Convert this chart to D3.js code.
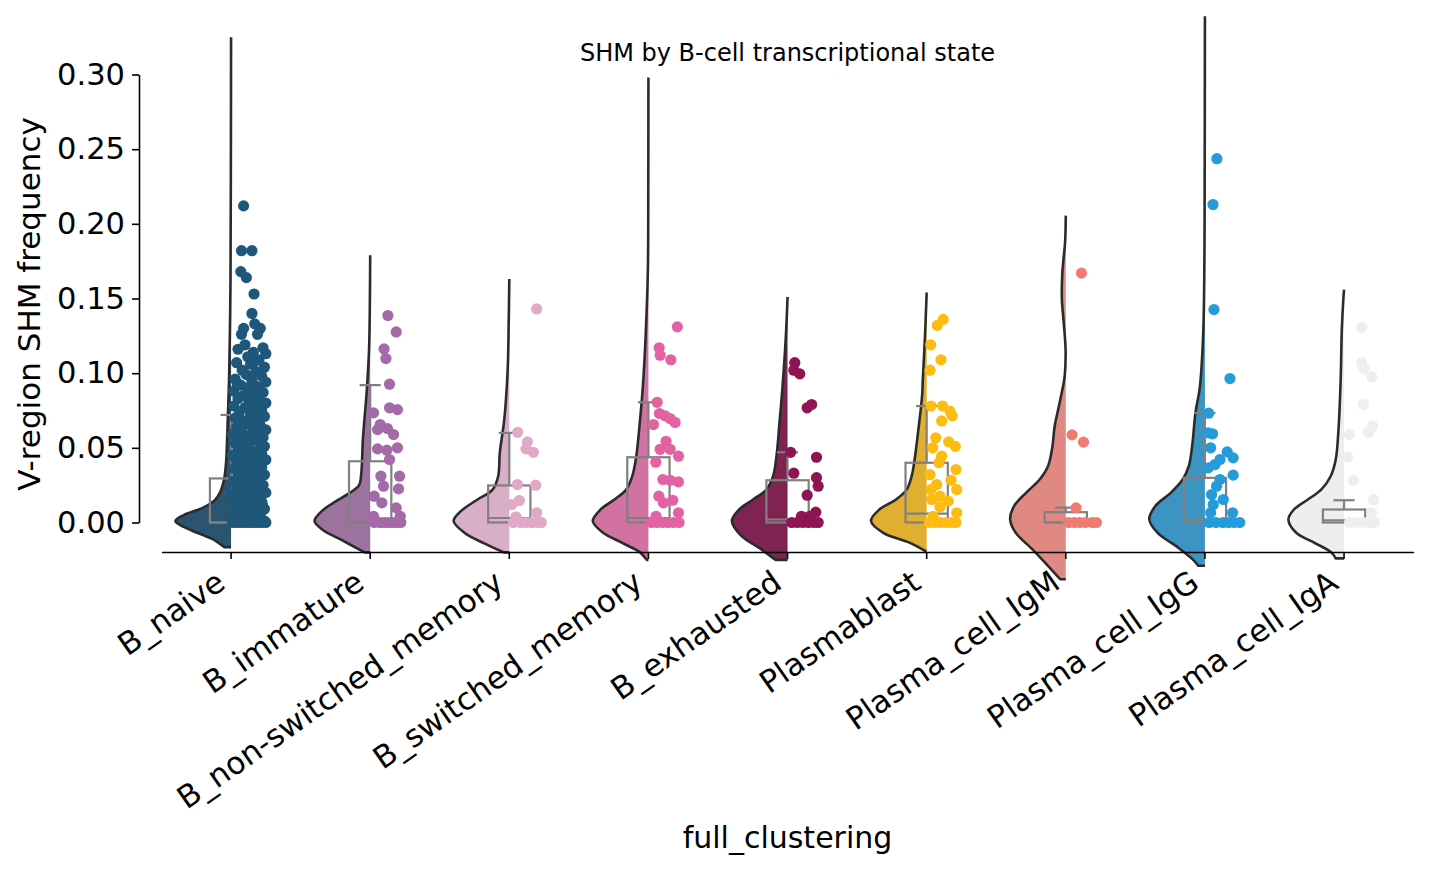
<!DOCTYPE html>
<html>
<head>
<meta charset="utf-8">
<script src="https://cdn.jsdelivr.net/npm/d3@7"></script>
<style>
  body { margin: 0; background: #fff; }
  text { font-family: "DejaVu Sans", sans-serif; fill: #000; }
</style>
</head>
<body>
<svg id="chart" width="1430" height="872"></svg>
<script>
// categories and their point colours
const categories = ["B_naive", "B_immature", "B_non-switched_memory", "B_switched_memory",
  "B_exhausted", "Plasmablast", "Plasma_cell_IgM", "Plasma_cell_IgG", "Plasma_cell_IgA"];
const pointColors = ["#1f577b", "#a36aa7", "#e0a8c9", "#e262a4", "#8e1454",
  "#fcbc12", "#f07b72", "#259bd9", "#efedf0"];

const yTicks = [0, 0.05, 0.10, 0.15, 0.20, 0.25, 0.30];

// box stats: [q1, median, q3, upper whisker]
const boxStats = [
  [0, 0, 0.0295, 0.072],
  [0, 0, 0.041, 0.092],
  [0, 0.003, 0.0248, 0.060],
  [0, 0.003, 0.0437, 0.0805],
  [0, 0.002, 0.0283, 0.047],
  [0, 0.006, 0.040, 0.078],
  [0, 0, 0.0069, 0.0100],
  [0, 0.002, 0.0299, 0.0734],
  [0, 0.0015, 0.0087, 0.0149]
];

// half-violin outlines: [value, relative width]
const naiveDensity = [[-0.0165,0.12],[-0.011,0.34],[-0.007,0.6],[-0.003,0.85],[0.001,1.0],[0.005,0.85],[0.01,0.5],[0.015,0.29],[0.02,0.2],[0.029,0.125],[0.04,0.09],[0.074,0.055],[0.096,0.036],[0.13,0.02],[0.163,0.01],[0.23,0.004],[0.325,0]];
const immatureDensity = [[-0.020,0.1],[-0.011,0.55],[-0.005,0.85],[0.001,1.0],[0.0076,0.87],[0.013,0.67],[0.02,0.36],[0.025,0.2],[0.033,0.16],[0.056,0.13],[0.089,0.06],[0.116,0.02],[0.15,0.005],[0.179,0]];
const nonSwitchedDensity = [[-0.020,0.1],[-0.0135,0.48],[-0.007,0.8],[0.001,1.0],[0.0076,0.87],[0.0154,0.57],[0.022,0.3],[0.031,0.2],[0.047,0.17],[0.069,0.09],[0.102,0.03],[0.136,0.01],[0.163,0]];
const switchedDensity = [[-0.025,0.03],[-0.02,0.15],[-0.0135,0.48],[-0.0067,0.82],[0.001,1.0],[0.0087,0.86],[0.0154,0.61],[0.022,0.4],[0.031,0.29],[0.044,0.22],[0.069,0.15],[0.091,0.1],[0.125,0.05],[0.169,0.01],[0.22,0.003],[0.298,0]];
const exhaustedDensity = [[-0.025,0.22],[-0.018,0.47],[-0.009,0.83],[0.001,1.0],[0.0087,0.87],[0.0154,0.62],[0.022,0.38],[0.031,0.26],[0.044,0.2],[0.069,0.14],[0.091,0.09],[0.125,0.03],[0.151,0]];
const plasmablastDensity = [[-0.019,0.03],[-0.0136,0.3],[-0.0069,0.78],[0.001,1.0],[0.0087,0.85],[0.0154,0.55],[0.022,0.36],[0.031,0.27],[0.044,0.21],[0.062,0.15],[0.078,0.1],[0.086,0.08],[0.095,0.07],[0.125,0.03],[0.154,0]];
const igmDensity = [[-0.038,0.1],[-0.029,0.32],[-0.018,0.6],[-0.0069,0.9],[0.002,1.0],[0.011,0.93],[0.02,0.71],[0.0288,0.47],[0.0377,0.32],[0.051,0.24],[0.0645,0.2],[0.082,0.1],[0.098,0.02],[0.116,0.004],[0.135,0.04],[0.149,0.07],[0.165,0.065],[0.175,0.045],[0.188,0.012],[0.2055,0]];
const iggDensity = [[-0.029,0.12],[-0.025,0.21],[-0.016,0.51],[-0.0069,0.85],[0.002,1.0],[0.011,0.89],[0.02,0.61],[0.0288,0.4],[0.0377,0.29],[0.051,0.23],[0.0734,0.17],[0.091,0.09],[0.127,0.03],[0.172,0.01],[0.216,0.005],[0.339,0]];
const igaDensity = [[-0.024,0.15],[-0.02,0.23],[-0.0136,0.53],[-0.0069,0.86],[0.002,1.0],[0.0087,0.9],[0.0154,0.65],[0.022,0.41],[0.031,0.24],[0.042,0.15],[0.062,0.1],[0.096,0.06],[0.129,0.04],[0.151,0.01],[0.156,0]];

// strip points: [value, offset to the right of the category centre, in band units]
const naivePts = [
  [0.212,0.09],[0.182,0.075],[0.182,0.15],[0.168,0.07],[0.164,0.11],[0.153,0.165],[0.140,0.15],[0.130,0.09],[0.133,0.17],[0.130,0.21],[0.126,0.075],[0.126,0.19],
  [0.119,0.10],[0.117,0.23],[0.116,0.05],[0.114,0.16],[0.113,0.25],[0.111,0.12],[0.109,0.20],[0.107,0.04],[0.106,0.14],[0.104,0.24],[0.102,0.08],[0.101,0.18],[0.099,0.11],[0.098,0.22],[0.096,0.03],[0.095,0.15],[0.094,0.25],[0.092,0.07],[0.091,0.19],[0.090,0.12],
  [0.088,0.02],[0.087,0.23],[0.086,0.16],[0.085,0.09],[0.083,0.05],[0.082,0.20],[0.081,0.13],[0.080,0.25],[0.078,0.02],[0.077,0.10],[0.076,0.17],[0.075,0.22],[0.074,0.06],[0.072,0.14],[0.071,0.24],[0.070,0.03],[0.069,0.19],[0.068,0.09],[0.066,0.12],[0.065,0.21],[0.064,0.04],[0.063,0.16],[0.062,0.25],[0.061,0.08],
  [0.060,0.18],[0.059,0.01],[0.058,0.11],[0.057,0.23],[0.056,0.06],[0.055,0.15],[0.054,0.20],[0.053,0.03],[0.052,0.10],[0.051,0.24],[0.050,0.13],[0.049,0.05],[0.048,0.19],[0.047,0.08],[0.046,0.22],[0.045,0.01],[0.044,0.16],[0.043,0.11],[0.042,0.25],[0.041,0.04],[0.040,0.18],[0.039,0.07],[0.038,0.14],[0.037,0.22],[0.036,0.02],[0.035,0.10],[0.034,0.19],[0.033,0.05],[0.032,0.24],[0.031,0.13],[0.030,0.08],
  [0.029,0.20],[0.028,0.02],[0.027,0.15],[0.026,0.11],[0.025,0.23],[0.024,0.04],[0.023,0.18],[0.022,0.08],[0.021,0.13],[0.020,0.25],[0.019,0.01],[0.018,0.20],[0.017,0.10],[0.016,0.06],[0.015,0.16],[0.014,0.22],[0.013,0.03],[0.012,0.12],[0.011,0.19],[0.010,0.07],[0.009,0.24],[0.008,0.14],[0.007,0.02],[0.006,0.10],[0.005,0.21],[0.004,0.17],[0.003,0.05],
  [0.108,0.17],[0.093,0.045],[0.079,0.205],[0.067,0.065],[0.054,0.125],[0.043,0.21],[0.035,0.165],[0.027,0.06],[0.019,0.145],[0.012,0.225],[0.006,0.155],
  [0,0.01],[0,0.04],[0,0.07],[0,0.10],[0,0.13],[0,0.16],[0,0.19],[0,0.22],[0,0.25],[0.001,0.03],[0.001,0.12],[0.002,0.20],[0.002,0.08],[0.001,0.24]
];
const immaturePts = [
  [0.1386,0.127],[0.1276,0.187],[0.1162,0.10],[0.1098,0.113],[0.0926,0.139],[0.0734,0.024],[0.0768,0.139],[0.0756,0.196],[0.0656,0.072],[0.0622,0.053],[0.0629,0.124],[0.0589,0.168],
  [0.0493,0.053],[0.0484,0.12],[0.050,0.196],[0.0422,0.139],[0.031,0.077],[0.031,0.211],[0.0243,0.096],[0.0225,0.204],[0.0176,0.029],[0.0132,0.084],[0.0098,0.187],[0.0042,0.024],[0.0042,0.216],
  [0,0.03],[0,0.07],[0,0.10],[0,0.13],[0,0.16],[0,0.19],[0,0.22]
];
const nonSwitchedPts = [
  [0.143,0.197],[0.0604,0.06],[0.054,0.13],[0.0493,0.12],[0.047,0.173],[0.0254,0.058],[0.025,0.19],[0.0147,0.072],[0.012,0.017],[0.0065,0.197],[0.0038,0.048],
  [0,0.03],[0,0.08],[0,0.12],[0,0.16],[0,0.20],[0,0.23]
];
const switchedPts = [
  [0.131,0.208],[0.117,0.077],[0.112,0.084],[0.109,0.161],[0.0805,0.063],[0.073,0.079],[0.0714,0.12],[0.0696,0.156],[0.0656,0.036],[0.067,0.192],[0.0544,0.127],[0.049,0.084],[0.049,0.156],[0.0444,0.216],
  [0.0404,0.053],[0.0288,0.104],[0.0283,0.156],[0.0272,0.216],[0.0176,0.075],[0.0149,0.175],[0.0132,0.108],[0.0065,0.216],[0.0042,0.055],
  [0,0.02],[0,0.06],[0,0.10],[0,0.14],[0,0.18],[0,0.22]
];
const exhaustedPts = [
  [0.107,0.052],[0.102,0.045],[0.0995,0.088],[0.0768,0.141],[0.079,0.173],[0.047,0.022],[0.0437,0.208],[0.033,0.045],[0.030,0.208],[0.0243,0.22],[0.0183,0.141],[0.0069,0.203],[0.0042,0.10],[0.0042,0.16],
  [0,0.03],[0,0.07],[0,0.11],[0,0.15],[0,0.19],[0,0.22]
];
const plasmablastPts = [
  [0.136,0.119],[0.132,0.076],[0.119,0.029],[0.109,0.103],[0.102,0.024],[0.078,0.031],[0.078,0.115],[0.0745,0.168],[0.0714,0.184],[0.068,0.108],[0.0567,0.065],[0.054,0.158],[0.051,0.206],[0.050,0.043],
  [0.0444,0.108],[0.040,0.088],[0.0355,0.211],[0.032,0.024],[0.0283,0.175],[0.0254,0.072],[0.022,0.029],[0.022,0.216],[0.0176,0.096],[0.0154,0.036],[0.0143,0.155],[0.0105,0.096],[0.0065,0.216],[0.0042,0.047],
  [0,0.02],[0,0.06],[0,0.10],[0,0.14],[0,0.18],[0,0.21]
];
const igmPts = [
  [0.167,0.113],[0.0587,0.045],[0.0538,0.127],[0.0098,0.074],
  [0,0.02],[0,0.06],[0,0.10],[0,0.14],[0,0.19],[0,0.22]
];
const iggPts = [
  [0.2436,0.086],[0.2129,0.058],[0.1426,0.065],[0.0964,0.18],[0.0732,0.027],[0.060,0.024],[0.0594,0.055],[0.050,0.041],[0.0473,0.16],[0.0433,0.203],[0.0422,0.108],[0.0388,0.072],[0.0366,0.024],
  [0.0317,0.203],[0.0288,0.108],[0.0243,0.084],[0.0187,0.048],[0.0154,0.132],[0.012,0.06],[0.0065,0.041],[0.0065,0.199],
  [0,0.03],[0,0.08],[0,0.13],[0,0.17],[0,0.21],[0,0.25]
];
const igaPts = [
  [0.1307,0.127],[0.107,0.127],[0.103,0.144],[0.0975,0.199],[0.079,0.139],[0.0645,0.206],[0.0604,0.175],[0.0589,0.038],[0.0437,0.024],[0.0281,0.067],[0.0154,0.211],[0.0065,0.199],
  [0,0.04],[0,0.09],[0,0.14],[0,0.19],[0,0.22]
];

const densities = [naiveDensity, immatureDensity, nonSwitchedDensity, switchedDensity,
  exhaustedDensity, plasmablastDensity, igmDensity, iggDensity, igaDensity];
const pointSets = [naivePts, immaturePts, nonSwitchedPts, switchedPts,
  exhaustedPts, plasmablastPts, igmPts, iggPts, igaPts];

const svg = d3.select("#chart");

const x = d3.scaleBand().domain(categories).range([161.5, 1413.6]);
const y = d3.scaleLinear().domain([0, 0.3]).range([522.5, 74.5]);
const bw = x.bandwidth();
const halfViolin = bw * 0.4;
const boxHalf = bw * 0.152;
const cx = c => x(c) + bw / 2;

// seaborn-like desaturation for the violin bodies
function desaturate(col) {
  const h = d3.hsl(col);
  h.s *= 0.75;
  return h.formatHex();
}

const groups = categories.map((c, i) => ({
  name: c, color: pointColors[i], density: densities[i], points: pointSets[i], box: boxStats[i]
}));

// violins
const violinLayer = svg.append("g");
groups.forEach(g => {
  const c = cx(g.name);
  const area = d3.area()
    .curve(d3.curveCatmullRom)
    .y(d => y(d[0]))
    .x0(d => c - d[1] * halfViolin)
    .x1(c);
  violinLayer.append("path")
    .attr("d", area(g.density))
    .attr("fill", desaturate(g.color));

  const line = d3.line()
    .curve(d3.curveCatmullRom)
    .x(d => c - d[1] * halfViolin)
    .y(d => y(d[0]));
  violinLayer.append("path")
    .attr("d", `M${c},${y(g.density[0][0])}L` + line(g.density).slice(1))
    .attr("fill", "none")
    .attr("stroke", "#2b2b2b")
    .attr("stroke-width", 2.6)
    .attr("stroke-linejoin", "round");
});

// boxes
const boxLayer = svg.append("g")
  .attr("stroke", "#808080")
  .attr("stroke-width", 2.2)
  .attr("fill", "none");
groups.forEach(g => {
  const c = cx(g.name);
  const [q1, med, q3, hi] = g.box;
  boxLayer.append("rect")
    .attr("x", c - boxHalf)
    .attr("y", y(q3))
    .attr("width", boxHalf * 2)
    .attr("height", y(q1) - y(q3));
  boxLayer.append("line")
    .attr("x1", c - boxHalf).attr("x2", c + boxHalf)
    .attr("y1", y(med)).attr("y2", y(med));
  boxLayer.append("line")
    .attr("x1", c).attr("x2", c)
    .attr("y1", y(q3)).attr("y2", y(hi));
  boxLayer.append("line")
    .attr("x1", c - boxHalf / 2).attr("x2", c + boxHalf / 2)
    .attr("y1", y(hi)).attr("y2", y(hi));
});

// strip points
groups.forEach(g => {
  const c = cx(g.name);
  svg.append("g")
    .selectAll("circle")
    .data(g.points)
    .join("circle")
    .attr("cx", d => c + d[1] * bw)
    .attr("cy", d => y(d[0]))
    .attr("r", 5.6)
    .attr("fill", g.color);
});

// y axis (trimmed spine, offset to the left)
const yAxis = svg.append("g")
  .attr("transform", "translate(139,0)")
  .call(d3.axisLeft(y).tickValues(yTicks).tickFormat(d3.format(".2f"))
    .tickSize(7).tickPadding(7).tickSizeOuter(0));
yAxis.selectAll("text").style("font-size", "30.5px").attr("fill", "#000");
yAxis.selectAll("line, path").attr("stroke", "#000").attr("stroke-width", 1.6);

// x axis
const xAxis = svg.append("g")
  .attr("transform", "translate(0,552)")
  .call(d3.axisBottom(x).tickSize(7).tickSizeOuter(0).tickFormat(""));
xAxis.selectAll("line, path").attr("stroke", "#000").attr("stroke-width", 1.6);

svg.append("g")
  .selectAll("text")
  .data(categories)
  .join("text")
  .attr("transform", d => `translate(${cx(d) - 4},587) rotate(-35)`)
  .attr("text-anchor", "end")
  .style("font-size", "31px")
  .text(d => d);

// labels
svg.append("text")
  .attr("x", 787.5).attr("y", 61)
  .attr("text-anchor", "middle")
  .style("font-size", "24px")
  .text("SHM by B-cell transcriptional state");

svg.append("text")
  .attr("x", 787.5).attr("y", 848)
  .attr("text-anchor", "middle")
  .style("font-size", "30px")
  .text("full_clustering");

svg.append("text")
  .attr("transform", "translate(40,304) rotate(-90)")
  .attr("text-anchor", "middle")
  .style("font-size", "31px")
  .text("V-region SHM frequency");
</script>
</body>
</html>
